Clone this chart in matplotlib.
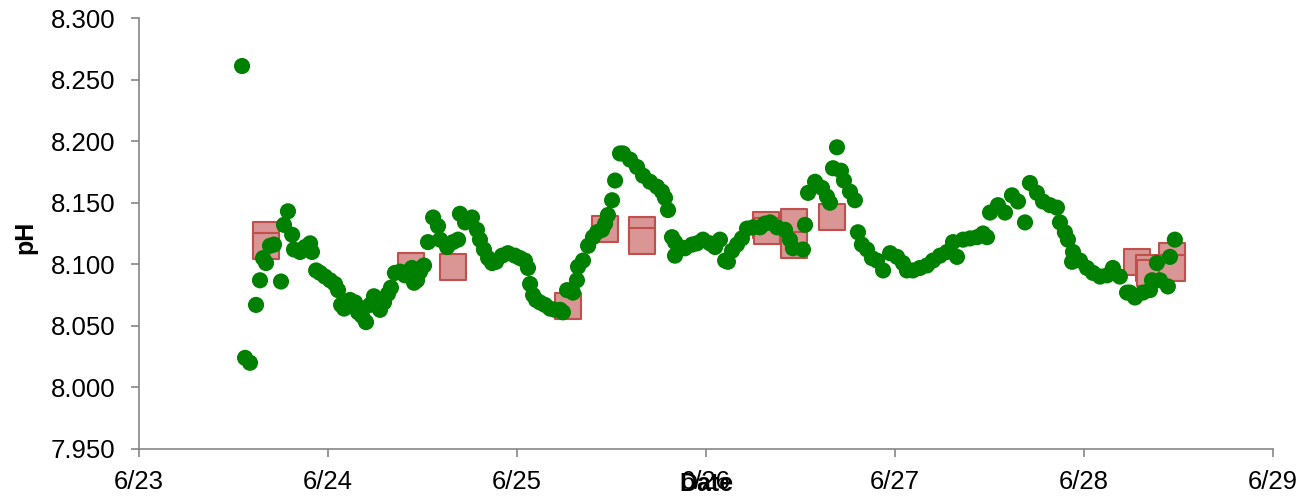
"""pH time series, 6/23 - 6/29: continuous sensor readings + discrete samples."""

import numpy as np
import matplotlib
matplotlib.use("Agg")
import matplotlib.pyplot as plt
from matplotlib.ticker import FormatStrFormatter

plt.rcParams["font.family"] = ["Liberation Sans", "DejaVu Sans"]

# x values are fractional day of June
sensor_day = [
    23.545, 23.561, 23.587, 23.619, 23.640, 23.656, 23.672, 23.693, 23.714, 23.751,
    23.767, 23.788, 23.810, 23.820, 23.852, 23.878, 23.905, 23.915, 23.937, 23.958,
    23.984, 24.011, 24.037, 24.053, 24.069, 24.085, 24.116, 24.143, 24.159, 24.180,
    24.201, 24.222, 24.243, 24.265, 24.275, 24.296, 24.317, 24.333, 24.354, 24.381,
    24.407, 24.423, 24.444, 24.455, 24.471, 24.487, 24.508, 24.529, 24.556, 24.582,
    24.593, 24.630, 24.661, 24.688, 24.698, 24.725, 24.762, 24.788, 24.804, 24.825,
    24.847, 24.868, 24.889, 24.921, 24.952, 24.989, 25.016, 25.042, 25.058, 25.069,
    25.085, 25.101, 25.122, 25.148, 25.175, 25.201, 25.228, 25.243, 25.265, 25.296,
    25.317, 25.323, 25.349, 25.376, 25.402, 25.423, 25.450, 25.466, 25.481, 25.503,
    25.519, 25.545, 25.561, 25.598, 25.635, 25.667, 25.704, 25.741, 25.767, 25.783,
    25.799, 25.820, 25.836, 25.836, 25.862, 25.889, 25.926, 25.952, 25.984, 26.021,
    26.048, 26.074, 26.101, 26.116, 26.138, 26.164, 26.190, 26.217, 26.249, 26.286,
    26.312, 26.339, 26.376, 26.418, 26.444, 26.460, 26.513, 26.524, 26.540, 26.577,
    26.614, 26.640, 26.656, 26.672, 26.693, 26.714, 26.730, 26.762, 26.788, 26.804,
    26.825, 26.852, 26.878, 26.905, 26.937, 26.974, 27.011, 27.042, 27.063, 27.095,
    27.132, 27.169, 27.201, 27.238, 27.275, 27.307, 27.328, 27.360, 27.397, 27.434,
    27.466, 27.487, 27.503, 27.545, 27.582, 27.619, 27.651, 27.688, 27.714, 27.751,
    27.783, 27.820, 27.857, 27.873, 27.899, 27.915, 27.937, 27.942, 27.979, 28.016,
    28.048, 28.085, 28.122, 28.153, 28.190, 28.228, 28.243, 28.270, 28.312, 28.349,
    28.360, 28.386, 28.402, 28.444, 28.455, 28.481,
]
sensor_ph = [
    8.261, 8.024, 8.020, 8.067, 8.087, 8.105, 8.101, 8.115, 8.116, 8.086,
    8.132, 8.143, 8.124, 8.112, 8.110, 8.114, 8.117, 8.110, 8.095, 8.093,
    8.090, 8.087, 8.084, 8.079, 8.067, 8.064, 8.071, 8.069, 8.061, 8.058,
    8.053, 8.067, 8.074, 8.071, 8.063, 8.069, 8.076, 8.081, 8.093, 8.094,
    8.091, 8.094, 8.097, 8.085, 8.087, 8.094, 8.099, 8.118, 8.138, 8.131,
    8.120, 8.114, 8.118, 8.120, 8.141, 8.134, 8.138, 8.128, 8.120, 8.112,
    8.105, 8.101, 8.102, 8.107, 8.109, 8.107, 8.105, 8.103, 8.097, 8.084,
    8.075, 8.071, 8.069, 8.067, 8.064, 8.063, 8.063, 8.061, 8.079, 8.077,
    8.087, 8.098, 8.103, 8.115, 8.122, 8.126, 8.128, 8.133, 8.140, 8.152,
    8.168, 8.190, 8.190, 8.185, 8.179, 8.172, 8.167, 8.163, 8.159, 8.154,
    8.144, 8.122, 8.118, 8.107, 8.114, 8.113, 8.116, 8.117, 8.120, 8.117,
    8.114, 8.120, 8.103, 8.102, 8.111, 8.116, 8.121, 8.129, 8.130, 8.130,
    8.133, 8.134, 8.130, 8.128, 8.120, 8.113, 8.112, 8.132, 8.158, 8.167,
    8.162, 8.155, 8.150, 8.178, 8.195, 8.176, 8.168, 8.159, 8.152, 8.126,
    8.116, 8.112, 8.105, 8.103, 8.095, 8.109, 8.106, 8.101, 8.095, 8.095,
    8.097, 8.099, 8.103, 8.107, 8.110, 8.118, 8.106, 8.120, 8.121, 8.122,
    8.125, 8.122, 8.142, 8.148, 8.142, 8.156, 8.151, 8.134, 8.166, 8.158,
    8.151, 8.148, 8.146, 8.134, 8.126, 8.120, 8.102, 8.110, 8.103, 8.097,
    8.093, 8.090, 8.091, 8.097, 8.090, 8.077, 8.077, 8.073, 8.077, 8.079,
    8.087, 8.101, 8.087, 8.082, 8.106, 8.120,
]

# discrete bottle samples
sample_day = [23.672, 23.672, 24.439, 24.661, 25.270, 25.466, 25.661, 25.661,
              26.317, 26.323, 26.466, 26.466, 26.667, 28.280, 28.344, 28.349,
              28.466, 28.466]
sample_ph = [8.124, 8.115, 8.099, 8.098, 8.066, 8.129, 8.128, 8.119,
             8.132, 8.127, 8.134, 8.116, 8.138, 8.102, 8.097, 8.093,
             8.107, 8.097]

day_ticks = [23, 24, 25, 26, 27, 28, 29]
day_labels = [f"6/{d}" for d in day_ticks]
ph_ticks = [7.95, 8.00, 8.05, 8.10, 8.15, 8.20, 8.25, 8.30]

AXIS_GREY = "#868686"

fig = plt.figure(figsize=(13.13, 4.96), dpi=100)
ax = fig.add_axes([0.1059, 0.0948, 0.8636, 0.8689])

ax.scatter(sample_day, sample_ph, marker="s", s=330, facecolor="#d99694",
           edgecolor="#c0504d", linewidths=1.5, zorder=2)
ax.scatter(sensor_day, sensor_ph, marker="o", s=135, facecolor="#008000",
           edgecolor="none", zorder=3)

ax.set_xlim(23, 29)
ax.set_ylim(7.95, 8.30)
ax.set_xticks(day_ticks)
ax.set_xticklabels(day_labels)
ax.set_yticks(ph_ticks)
ax.yaxis.set_major_formatter(FormatStrFormatter("%.3f"))

for side in ("top", "right"):
    ax.spines[side].set_visible(False)
for side in ("left", "bottom"):
    ax.spines[side].set_color(AXIS_GREY)
    ax.spines[side].set_linewidth(1.2)
ax.tick_params(axis="both", direction="out", length=6, width=1.2,
               color=AXIS_GREY, labelsize=18.5, labelcolor="black")
ax.tick_params(axis="y", pad=11)
ax.tick_params(axis="x", pad=9)

ax.set_xlabel("Date", fontsize=18, fontweight="bold")
ax.xaxis.set_label_coords(0.5, -0.053)
ax.set_ylabel("pH", fontsize=18, fontweight="bold")
ax.yaxis.set_label_coords(-0.09, 0.49)

fig.savefig("out.png", dpi=100)
